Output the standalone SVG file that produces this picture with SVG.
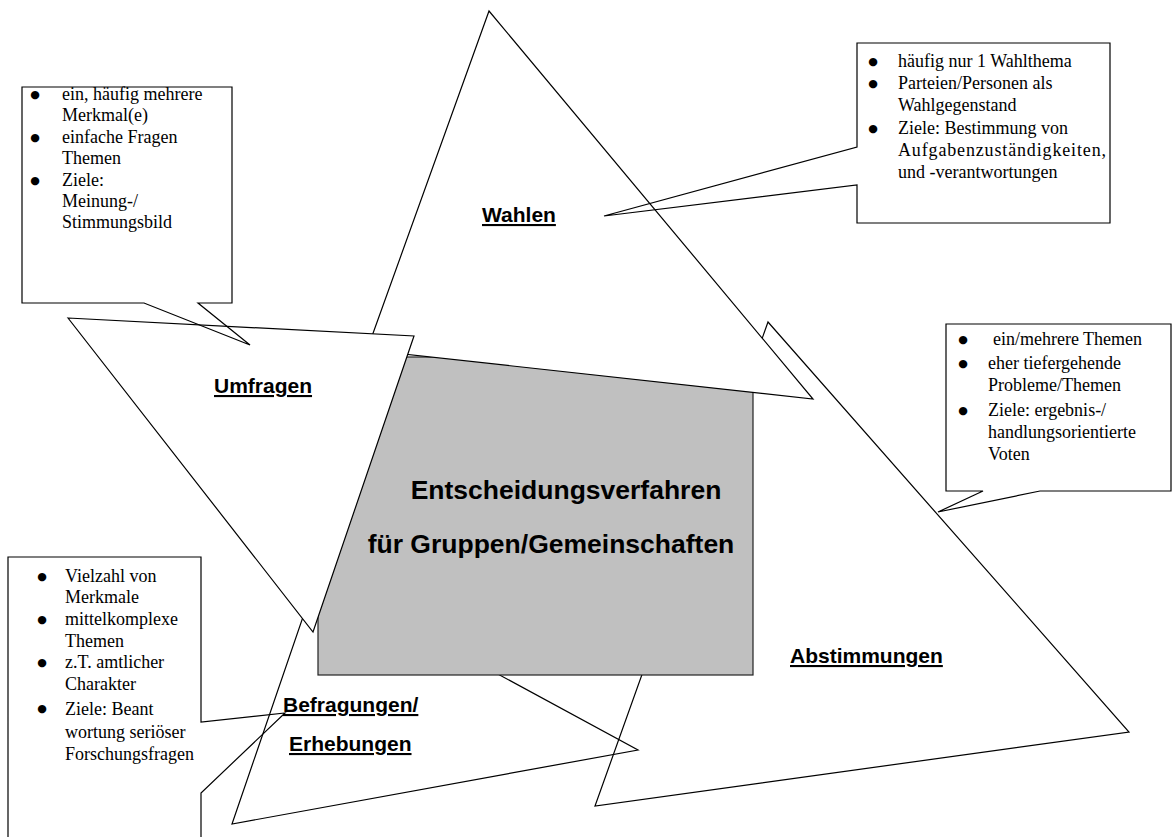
<svg xmlns="http://www.w3.org/2000/svg" width="1175" height="837" viewBox="0 0 1175 837">
<style>
.tri{fill:#fff;stroke:#000;stroke-width:1.2;stroke-linejoin:miter}
.open{fill:none;stroke:#000;stroke-width:1.2}
.box{fill:#c0c0c0;stroke:#222;stroke-width:1.2}
.call{fill:none;stroke:#000;stroke-width:1.2}
.lbl{font-family:"Liberation Sans",Arial,sans-serif;font-weight:bold;font-size:21px;text-decoration:underline;fill:#000}
.ctr{font-family:"Liberation Sans",Arial,sans-serif;font-weight:bold;font-size:26.5px;text-anchor:middle;fill:#000}
.ct{font-family:"Liberation Serif","Times New Roman",serif;font-size:18px;fill:#000}
.bl{font-family:"DejaVu Sans",sans-serif;font-size:11px;text-anchor:middle;fill:#000}
</style>
<rect width="1175" height="837" fill="#fff"/>

<g id="node-abstimmungen">
  <polygon class="tri" points="768,322 1129,732 595,806"/>
  <text class="lbl" x="790" y="663">Abstimmungen</text>
</g>

<g id="node-befragungen">
  <polygon class="open" points="317,576 638,750 232,824"/>
  <text class="lbl" x="283" y="712">Befragungen/</text>
  <text class="lbl" x="289" y="751">Erhebungen</text>
</g>

<g id="node-center">
  <rect class="box" x="318" y="357" width="435" height="318"/>
  <text class="ctr" x="566" y="499">Entscheidungsverfahren</text>
  <text class="ctr" x="551" y="553">für Gruppen/Gemeinschaften</text>
</g>

<g id="node-wahlen">
  <polygon class="tri" points="489,11 813,399 367,350"/>
  <text class="lbl" x="482" y="222">Wahlen</text>
</g>

<g id="node-umfragen">
  <polygon class="tri" points="68,318 414,336 313,632"/>
  <text class="lbl" x="214" y="393">Umfragen</text>
</g>

<g id="connectors"></g>

<g id="note-umfragen">
  <path class="call" d="M22,87 H232 V303 H198 L250,345 L144,303 H22 Z"/>
  <text class="bl" x="35" y="98">●</text>
  <text class="bl" x="35" y="141">●</text>
  <text class="bl" x="35" y="184">●</text>
  <text class="ct" x="62" y="100">ein, häufig mehrere</text>
  <text class="ct" x="62" y="121">Merkmal(e)</text>
  <text class="ct" x="62" y="143">einfache Fragen</text>
  <text class="ct" x="62" y="164">Themen</text>
  <text class="ct" x="62" y="186">Ziele:</text>
  <text class="ct" x="62" y="207">Meinung-/</text>
  <text class="ct" x="62" y="228">Stimmungsbild</text>
</g>

<g id="note-wahlen">
  <path class="call" d="M857,43 H1110 V223 H857 V185 L604,216 L857,147 Z"/>
  <text class="bl" x="873" y="65">●</text>
  <text class="bl" x="873" y="87">●</text>
  <text class="bl" x="873" y="132">●</text>
  <text class="ct" x="898" y="67">häufig nur 1 Wahlthema</text>
  <text class="ct" x="898" y="89">Parteien/Personen als</text>
  <text class="ct" x="898" y="111">Wahlgegenstand</text>
  <text class="ct" x="898" y="134">Ziele: Bestimmung von</text>
  <text class="ct" x="898" y="156" textLength="208" lengthAdjust="spacing">Aufgabenzuständigkeiten,</text>
  <text class="ct" x="898" y="178">und -verantwortungen</text>
</g>

<g id="note-abstimmungen">
  <path class="call" d="M946,324 H1171 V491 H1040 L938,512 L983,491 H946 Z"/>
  <text class="bl" x="963" y="343">●</text>
  <text class="bl" x="963" y="367">●</text>
  <text class="bl" x="963" y="414">●</text>
  <text class="ct" x="993" y="345">ein/mehrere Themen</text>
  <text class="ct" x="988" y="369">eher tiefergehende</text>
  <text class="ct" x="988" y="391">Probleme/Themen</text>
  <text class="ct" x="988" y="416">Ziele: ergebnis-/</text>
  <text class="ct" x="988" y="438">handlungsorientierte</text>
  <text class="ct" x="988" y="460">Voten</text>
</g>

<g id="note-befragungen">
  <path class="call" d="M8,557 H201 V722 L285,713 L201,793 V850 H8 Z"/>
  <text class="bl" x="42" y="580">●</text>
  <text class="bl" x="42" y="623">●</text>
  <text class="bl" x="42" y="666">●</text>
  <text class="bl" x="42" y="712">●</text>
  <text class="ct" x="65" y="582">Vielzahl von</text>
  <text class="ct" x="65" y="603">Merkmale</text>
  <text class="ct" x="65" y="625">mittelkomplexe</text>
  <text class="ct" x="65" y="647">Themen</text>
  <text class="ct" x="65" y="668">z.T. amtlicher</text>
  <text class="ct" x="65" y="690">Charakter</text>
  <text class="ct" x="65" y="715">Ziele: Beant</text>
  <text class="ct" x="65" y="738">wortung seriöser</text>
  <text class="ct" x="65" y="760">Forschungsfragen</text>
</g>
</svg>
